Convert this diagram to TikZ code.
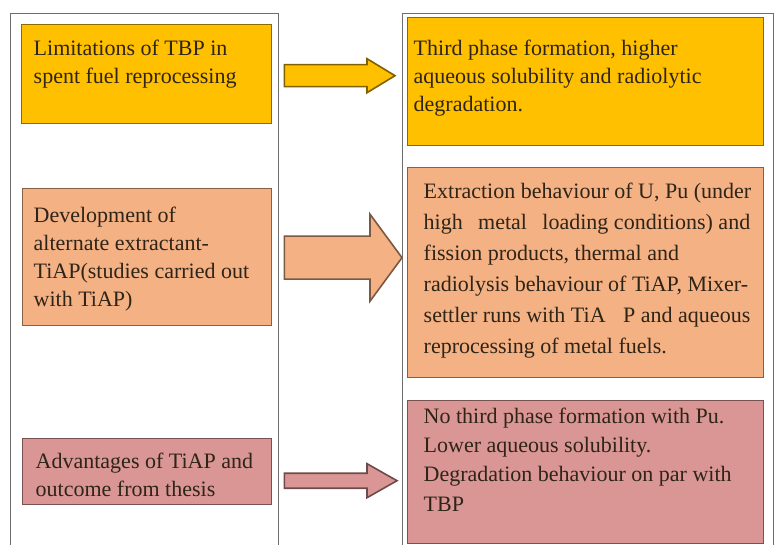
\documentclass[tikz,border=0pt]{standalone}
\usepackage{fontspec}
\setmainfont{Liberation Serif}
\usetikzlibrary{calc}

\definecolor{tbpgold}{HTML}{FFC000}
\definecolor{tiappeach}{HTML}{F4B183}
\definecolor{thesisrose}{HTML}{D99694}
\definecolor{framegray}{HTML}{6E6E6E}
\definecolor{inkdark}{HTML}{2E2418}

% text block: #1 height, #2 width, #3 top gap, #4 lines
\newcommand{\boxtext}[4]{\parbox[c][#1][t]{#2}{\vspace*{#3}\raggedright\strut #4}}
% block arrow: #1 tail, #2 tip, #3 shaft half, #4 head half, #5 head length, #6 colour
\newcommand{\blockarrow}[6]{%
  \draw[barrow=#6] ($(#1)+(0,-#3)$) -- ($(#2)+(-#5,-#3)$) -- ($(#2)+(-#5,-#4)$) -- (#2)
    -- ($(#2)+(-#5,#4)$) -- ($(#2)+(-#5,#3)$) -- ($(#1)+(0,#3)$) -- cycle;}

\begin{document}
\begin{tikzpicture}[x=0.5pt,y=-0.5pt,
  frame/.style={draw=framegray,line width=0.7pt,anchor=north west,inner sep=0pt},
  tbox/.style={draw=#1!55!black,fill=#1,line width=0.7pt,anchor=north west,
    inner ysep=0pt,text=inkdark,font=\fontsize{11}{14}\selectfont},
  barrow/.style={draw=#1!50!black,fill=#1,line width=0.8pt,line join=miter}]
\useasboundingbox (0,0) rectangle (776,545);
\clip (0,0) rectangle (776,545);
% ================ frames ================
\node[frame,minimum width=134pt,minimum height=273.5pt] (lframe) at (10,13) {};
\node[frame,minimum width=185.5pt,minimum height=273.5pt] (rframe) at (402,13) {};
% ================ left column ================
\node[tbox=tbpgold,inner xsep=6pt] (l1) at (21,24)
  {\boxtext{49.5pt}{113pt}{5.7pt}{Limitations of TBP in\\spent fuel reprocessing}};
\node[tbox=tiappeach,inner xsep=5.5pt] (l2) at (22,188)
  {\boxtext{68.5pt}{113.5pt}{7.2pt}{Development of\\alternate extractant-\\TiAP(studies carried out\\with TiAP)}};
\node[tbox=thesisrose,inner xsep=6.5pt] (l3) at (22,438)
  {\boxtext{33pt}{111.5pt}{5.2pt}{Advantages of TiAP and\\outcome from thesis}};
% ================ right column ================
\node[tbox=tbpgold,inner xsep=3pt] (r1) at (407,17)
  {\boxtext{64pt}{172pt}{9.2pt}{Third phase formation, higher\\aqueous solubility and radiolytic\\degradation.}};
\node[tbox=tiappeach,inner xsep=4pt,font=\fontsize{11}{15.5}\selectfont] (r2) at (407,167)
  {\boxtext{105pt}{170pt}{4.6pt}{\leftskip=4pt Extraction behaviour of U, Pu (under\\
   high\hspace{0.7em}metal\hspace{0.7em}loading conditions) and\\fission products, thermal and\\
   radiolysis behaviour of TiAP, Mixer-\\settler runs with TiA\hspace{0.8em}P and aqueous\\
   reprocessing of metal fuels.}};
\node[tbox=thesisrose,inner xsep=4pt,font=\fontsize{11}{14.7}\selectfont] (r3) at (407,400)
  {\boxtext{71.5pt}{170pt}{0.9pt}{\leftskip=4pt No third phase formation with Pu.\\Lower aqueous solubility.\\
   Degradation behaviour on par with\\TBP}};
% ================ block arrows ================
\coordinate (t1) at ($(lframe.east |- l1.east)+(5,1.5)$);
\coordinate (h1) at ($(rframe.west |- t1)+(-7,0)$);
\coordinate (t2) at ($(lframe.east |- l2.east)+(5,0.5)$);
\coordinate (h2) at (rframe.west |- t2);
\coordinate (t3) at ($(lframe.east |- l3.east)+(5,9)$);
\coordinate (h3) at ($(rframe.west |- t3)+(-5,0)$);
\blockarrow{t1}{h1}{11}{17}{28}{tbpgold}
\blockarrow{t2}{h2}{21.5}{43.5}{32}{tiappeach}
\blockarrow{t3}{h3}{7.5}{17}{30}{thesisrose}
\end{tikzpicture}
\end{document}
